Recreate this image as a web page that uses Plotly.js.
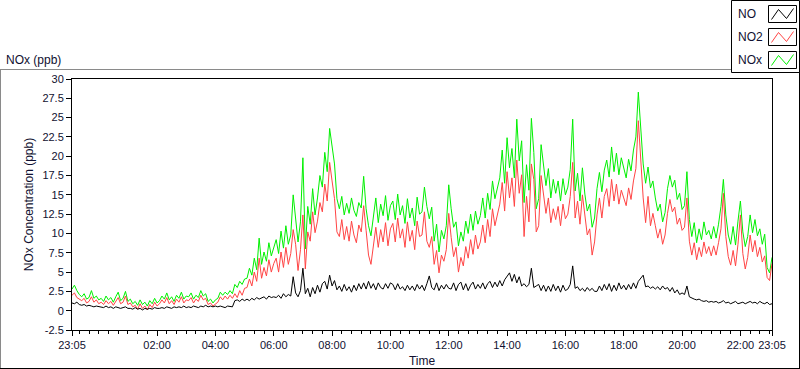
<!DOCTYPE html>
<html>
<head>
<meta charset="utf-8">
<script src="https://cdn.plot.ly/plotly-3.0.1.min.js"></script>
<style>
  html, body { margin: 0; padding: 0; background: #ffffff; }
  #chart { width: 800px; height: 369px; }
</style>
</head>
<body>
<div id="chart"></div>
<script>
// ---- Data (5-minute samples from 23:05 to 23:05 next day) ----
const START = '2020-01-01T23:05:00Z';
const STEP_MIN = 5;

const seriesNames = ['NO', 'NO2', 'NOx'];

const noValues = [
  1.0, 0.9, 1.1, 0.8, 0.7, 0.8, 0.6, 0.7, 0.6, 0.5, 0.6, 0.5,
  0.5, 0.4, 0.6, 0.4, 0.5, 0.3, 0.5, 0.4, 0.3, 0.4, 0.5, 0.3,
  0.3, 0.2, 0.4, 0.2, 0.3, 0.1, 0.3, 0.2, 0.3, 0.2, 0.4, 0.3,
  0.3, 0.4, 0.3, 0.5, 0.4, 0.3, 0.5, 0.4, 0.5, 0.4, 0.6, 0.4,
  0.5, 0.4, 0.6, 0.5, 0.4, 0.6, 0.5, 0.7, 0.5, 0.6, 0.5, 0.6,
  0.5, 0.6, 0.5, 0.4, 0.6, 0.5, 0.5, 1.3, 1.4, 1.2, 1.5, 1.3,
  1.5, 1.3, 1.6, 1.4, 1.7, 1.5, 1.6, 1.8, 1.5, 1.9, 1.7, 1.8,
  1.7, 2.0, 1.6, 2.2, 1.8, 2.1, 1.9, 4.4, 2.3, 1.8, 2.6, 5.5,
  2.2, 2.9, 1.8, 3.0, 2.2, 3.3, 2.4, 3.5, 3.8, 2.8, 4.6, 3.2,
  3.9, 2.7, 3.2, 2.5, 3.4, 2.6, 3.1, 2.4, 3.3, 2.6, 3.5, 2.8,
  3.6, 2.8, 3.8, 2.9, 3.5, 2.7, 3.6, 3.0, 2.8, 3.5, 2.9, 3.6,
  3.4, 2.7, 3.5, 2.8, 3.1, 2.6, 3.3, 2.7, 3.2, 2.6, 3.4, 2.8,
  3.3, 2.6, 3.5, 4.5, 3.0, 2.7, 3.6, 2.6, 3.3, 2.8, 3.4, 2.9,
  2.8, 3.6, 2.6, 3.4, 3.7, 2.7, 3.5, 2.6, 3.3, 3.7, 2.8, 3.4,
  2.9, 3.6, 2.8, 3.5, 3.8, 3.0, 3.7, 3.1, 3.9, 3.2, 4.0, 4.4,
  4.9, 3.8, 4.7, 3.6, 4.4, 3.2, 3.5, 3.1, 3.4, 5.5, 3.0, 3.2,
  3.4, 2.6, 3.3, 2.5, 3.2, 2.5, 3.4, 2.6, 3.2, 2.4, 3.3, 2.6,
  2.8, 3.4, 5.8, 2.9, 3.1, 2.6, 2.9, 2.5, 3.0, 2.6, 2.9, 2.5,
  2.5, 3.2, 2.6, 3.4, 2.7, 3.5, 2.5, 3.3, 2.6, 3.6, 2.8, 3.3,
  2.7, 3.4, 2.8, 3.6, 2.9, 3.8, 4.2, 4.6, 3.1, 3.2, 2.9, 3.1,
  2.8, 3.1, 2.7, 3.2, 2.8, 3.0, 2.5, 3.0, 2.3, 2.7, 2.1, 2.3,
  2.1, 3.2, 1.8, 1.6, 1.5, 1.4, 1.5, 1.3, 1.2, 1.3, 1.1, 1.2,
  1.1, 1.2, 1.0, 1.1, 1.3, 1.0, 1.1, 0.9, 1.0, 1.2, 0.9, 1.0,
  1.1, 0.9, 1.0, 1.2, 1.0, 1.1, 0.9, 1.2, 1.0, 0.9, 1.1, 0.8, 0.9
];

const no2Values = [
  2.0, 2.3, 1.7, 1.5, 1.3, 1.6, 1.0, 1.2, 1.8, 1.1, 1.4, 0.9,
  1.1, 0.8, 1.3, 0.9, 1.2, 0.7, 1.3, 1.7, 0.9, 1.1, 1.9, 0.8,
  1.0, 0.5, 0.7, 0.2, 0.9, 0.3, 0.6, 0.1, 0.8, 0.4, 1.1, 0.6,
  0.9, 1.4, 1.0, 1.7, 0.9, 1.3, 0.8, 1.5, 1.1, 1.8, 1.0, 1.4,
  1.3, 1.7, 1.0, 1.5, 1.2, 2.0, 1.4, 1.6, 0.8, 1.0, 0.6, 0.9,
  1.1, 1.8, 1.4, 1.9, 1.5, 2.0, 1.6, 2.2, 1.7, 2.6, 2.0, 2.9,
  3.0, 4.1, 3.2, 5.0, 3.8, 6.8, 4.2, 5.6, 4.5, 6.6, 5.0, 6.1,
  6.8, 5.0, 7.6, 5.6, 8.2, 6.0, 7.4, 10.5, 8.6, 5.2, 7.9, 12.4,
  5.4, 10.2, 9.0, 12.8, 10.1, 11.6, 14.0, 12.8, 16.4, 14.2, 19.2, 16.8,
  14.5, 10.2, 9.6, 11.8, 9.2, 10.9, 9.0, 11.6, 9.8, 8.8, 11.1, 10.2,
  13.6, 10.4, 7.2, 6.0, 8.6, 10.8, 8.2, 10.5, 8.9, 11.4, 8.4, 10.6,
  11.3, 8.9, 12.0, 9.4, 10.6, 8.2, 11.5, 9.0, 10.4, 7.9, 11.6, 9.6,
  9.8, 12.8, 9.0, 8.2, 9.6, 6.0, 7.8, 4.9, 7.2, 6.4, 7.9, 12.6,
  9.5, 7.0, 8.2, 5.0, 6.9, 5.8, 8.3, 6.8, 9.2, 7.3, 9.8, 8.0,
  8.9, 11.1, 8.8, 11.8, 9.6, 13.2, 11.0, 12.5, 13.8, 16.6, 12.9, 18.0,
  14.6, 17.2, 13.5, 19.5, 15.2, 17.6, 9.6, 14.8, 11.5, 19.0, 17.0, 10.2,
  11.0, 17.5, 15.0, 12.6, 14.6, 11.4, 13.2, 11.8, 13.5, 11.0, 13.8, 11.9,
  12.5, 14.8, 19.2, 12.0, 14.2, 11.2, 15.0, 12.0, 9.8, 10.6, 7.2, 8.9,
  12.4, 14.6, 12.0, 14.8, 15.8, 13.5, 17.0, 14.2, 16.4, 13.8, 15.6, 14.6,
  13.6, 15.9, 14.4, 16.8, 18.4, 24.6, 19.5, 14.6, 11.4, 14.8, 11.0, 12.6,
  11.0, 9.4, 10.6, 8.6, 9.8, 12.6, 14.4, 12.8, 13.4, 11.2, 12.0, 10.4,
  10.8, 14.6, 9.0, 7.2, 8.8, 6.6, 8.2, 7.0, 8.9, 7.4, 8.3, 7.1,
  8.4, 7.2, 8.8, 10.6, 15.2, 9.6, 7.0, 5.9, 7.8, 5.8, 8.6, 12.4,
  7.4, 5.4, 6.9, 9.8, 7.6, 9.1, 7.0, 8.2, 6.3, 7.1, 4.3, 3.9, 6.1
];

const noxValues = [
  2.8, 3.3, 2.6, 2.1, 1.8, 2.2, 1.5, 1.7, 2.6, 1.6, 1.9, 1.4,
  1.6, 1.2, 1.9, 1.4, 1.7, 1.1, 1.8, 2.4, 1.3, 1.6, 2.5, 1.2,
  1.5, 0.9, 1.2, 0.7, 1.4, 0.8, 1.1, 0.6, 1.3, 0.9, 1.6, 1.0,
  1.3, 1.9, 1.5, 2.3, 1.4, 1.8, 1.2, 2.0, 1.6, 2.4, 1.5, 1.9,
  1.8, 2.3, 1.5, 2.0, 1.7, 2.6, 1.9, 2.2, 1.2, 1.5, 1.0, 1.4,
  1.6, 2.4, 2.0, 2.4, 2.1, 2.6, 2.2, 3.4, 3.0, 3.8, 3.4, 4.1,
  4.2, 5.5, 4.6, 6.8, 5.3, 9.4, 6.0, 7.6, 6.4, 8.8, 7.1, 8.3,
  9.2, 7.4, 10.3, 8.1, 11.0, 8.6, 9.8, 15.0, 12.0, 8.9, 11.5, 19.8,
  8.0, 13.5, 11.2, 15.8, 12.4, 14.6, 17.5, 16.0, 20.5, 18.0, 23.6, 21.0,
  19.0, 14.5, 13.2, 14.8, 12.4, 13.9, 12.6, 14.6, 13.0, 12.2, 14.0, 13.3,
  17.4, 13.2, 11.0, 9.7, 12.1, 14.6, 11.4, 13.8, 12.3, 14.9, 11.7, 13.6,
  14.2, 11.8, 15.1, 12.4, 13.6, 11.3, 14.5, 12.0, 13.3, 11.0, 14.7, 12.5,
  12.8, 16.0, 13.5, 11.9, 13.4, 9.0, 11.2, 7.6, 10.4, 9.3, 11.0, 16.3,
  13.2, 10.8, 11.5, 8.4, 10.2, 9.0, 11.6, 10.0, 12.5, 10.4, 12.9, 11.2,
  12.3, 14.6, 12.0, 15.2, 13.1, 16.8, 14.5, 15.9, 17.2, 20.8, 16.5, 22.4,
  18.5, 21.0, 17.2, 24.8, 19.4, 22.0, 14.0, 18.9, 15.6, 24.9, 20.5, 13.2,
  14.5, 21.5, 19.0, 16.2, 18.4, 14.6, 17.0, 15.2, 16.8, 14.2, 17.1, 15.0,
  16.0, 18.3, 24.8, 15.5, 17.8, 14.2, 18.5, 15.1, 12.9, 13.8, 10.8, 12.0,
  15.8, 17.9, 15.4, 18.2, 19.5, 17.3, 21.2, 18.0, 20.4, 17.6, 19.8, 18.4,
  17.2, 19.6, 18.1, 20.8, 22.5, 28.3, 24.0, 19.0, 16.5, 18.6, 15.9, 16.8,
  14.6, 12.9, 13.8, 11.5, 12.7, 15.8, 17.5, 16.0, 16.9, 14.4, 15.2, 13.1,
  13.6, 18.0, 11.8, 9.6, 11.4, 8.8, 10.6, 9.2, 11.5, 9.8, 10.4, 9.3,
  10.9, 9.4, 11.2, 13.5, 17.0, 12.4, 9.8, 8.6, 10.9, 8.5, 11.6, 14.2,
  10.2, 8.3, 9.6, 12.4, 10.1, 11.8, 9.7, 10.6, 8.6, 9.9, 5.6, 4.9, 6.9
];

const xTickVals = ['2020-01-01 23:05', '2020-01-02 02:00', '2020-01-02 04:00', '2020-01-02 06:00',
  '2020-01-02 08:00', '2020-01-02 10:00', '2020-01-02 12:00', '2020-01-02 14:00',
  '2020-01-02 16:00', '2020-01-02 18:00', '2020-01-02 20:00', '2020-01-02 22:00', '2020-01-02 23:05'];
const xTickText = ['23:05', '02:00', '04:00', '06:00', '08:00', '10:00', '12:00', '14:00',
  '16:00', '18:00', '20:00', '22:00', '23:05'];
const yTickVals = [-2.5, 0, 2.5, 5, 7.5, 10, 12.5, 15, 17.5, 20, 22.5, 25, 27.5, 30];
const yTickText = ['-2.5', '0', '2.5', '5', '7.5', '10', '12.5', '15', '17.5', '20', '22.5', '25', '27.5', '30'];

// ---- build time stamps ----
function timeAt(i) {
  const d = new Date(Date.parse(START) + i * STEP_MIN * 60000);
  return d.toISOString().slice(0, 19).replace('T', ' ');
}
const times = noValues.map((_, i) => timeAt(i));

const colors = { NO: '#000000', NO2: '#ff4444', NOx: '#00f000' };

const traces = [
  { x: times, y: noxValues, name: 'NOx', type: 'scatter', mode: 'lines', line: { color: colors.NOx, width: 1 }, showlegend: false },
  { x: times, y: no2Values, name: 'NO2', type: 'scatter', mode: 'lines', line: { color: colors.NO2, width: 1 }, showlegend: false },
  { x: times, y: noValues, name: 'NO', type: 'scatter', mode: 'lines', line: { color: colors.NO, width: 1 }, showlegend: false }
];

// pixel -> paper helpers (plot area: x 72..772, y 79..330)
const L = 72, R = 772, T = 79, B = 330;
const px = v => (v - L) / (R - L);
const py = v => (B - v) / (B - T);

const FONT = 'Liberation Sans, Arial, sans-serif';
const shapes = [];
const annotations = [];

// outer frame
shapes.push({ type: 'line', xref: 'paper', yref: 'paper', x0: px(0), x1: px(731), y0: py(69.5), y1: py(69.5), line: { color: '#8a8a8a', width: 1 } });
shapes.push({ type: 'line', xref: 'paper', yref: 'paper', x0: px(0.5), x1: px(0.5), y0: py(69.5), y1: py(368.5), line: { color: '#8a8a8a', width: 1 } });
shapes.push({ type: 'line', xref: 'paper', yref: 'paper', x0: px(0), x1: px(800), y0: py(368.5), y1: py(368.5), line: { color: '#000000', width: 1 } });
shapes.push({ type: 'line', xref: 'paper', yref: 'paper', x0: px(799.5), x1: px(799.5), y0: py(69.5), y1: py(368.5), line: { color: '#000000', width: 1 } });

// custom legend
shapes.push({ type: 'rect', xref: 'paper', yref: 'paper', x0: px(731.5), x1: px(799.5), y0: py(0.5), y1: py(72.5), line: { color: '#000000', width: 1 }, fillcolor: '#ffffff' });
const legendRows = [ { name: 'NO', top: 5 }, { name: 'NO2', top: 28 }, { name: 'NOx', top: 51 } ];
legendRows.forEach(r => {
  const x = 768.5, y = r.top + 0.5;
  shapes.push({ type: 'rect', xref: 'paper', yref: 'paper', x0: px(x), x1: px(x + 28), y0: py(y), y1: py(y + 17), line: { color: '#000000', width: 1 }, fillcolor: '#ffffff' });
  const pts = [[x + 3, y + 14], [x + 10, y + 4], [x + 18, y + 13], [x + 25, y + 3]];
  const path = pts.map((p, i) => (i ? 'L' : 'M') + px(p[0]) + ',' + py(p[1])).join(' ');
  shapes.push({ type: 'path', xref: 'paper', yref: 'paper', path: path, line: { color: colors[r.name], width: 1 } });
  annotations.push({ xref: 'paper', yref: 'paper', x: px(736), y: py(y + 8.5), xanchor: 'left', yanchor: 'middle', text: r.name, showarrow: false, font: { family: FONT, size: 12, color: '#101030' } });
});

// top-left caption
annotations.push({ xref: 'paper', yref: 'paper', x: px(4), y: py(60), xanchor: 'left', yanchor: 'middle', text: 'NOx (ppb)', showarrow: false, font: { family: FONT, size: 12, color: '#101030' } });

const layout = {
  width: 800, height: 369,
  margin: { l: L, r: 800 - R, t: T, b: 369 - B, pad: 0 },
  paper_bgcolor: '#ffffff', plot_bgcolor: '#ffffff',
  font: { family: FONT, size: 11, color: '#101030' },
  showlegend: false,
  xaxis: {
    type: 'date',
    range: ['2020-01-01 23:05', '2020-01-02 23:05'],
    tickmode: 'array', tickvals: xTickVals, ticktext: xTickText,
    ticks: 'outside', ticklen: 5, tickcolor: '#000', tickwidth: 1,
    minor: { ticks: 'outside', ticklen: 3, tickcolor: '#000', tickwidth: 1, tickmode: 'linear', tick0: '2020-01-01 00:00', dtick: 20 * 60000, showgrid: false },
    showline: true, linecolor: '#000', linewidth: 1, mirror: true,
    showgrid: false, zeroline: false,
    tickfont: { family: FONT, size: 11, color: '#101030' },
    title: { text: 'Time', font: { family: FONT, size: 12, color: '#101030' }, standoff: 6 }
  },
  yaxis: {
    range: [-2.5, 30],
    tickmode: 'array', tickvals: yTickVals, ticktext: yTickText,
    ticks: 'outside', ticklen: 5, tickcolor: '#000', tickwidth: 1,
    showline: true, linecolor: '#000', linewidth: 1, mirror: true,
    showgrid: false, zeroline: false,
    tickfont: { family: FONT, size: 11, color: '#101030' },
    title: { text: 'NOx Concentration (ppb)', font: { family: FONT, size: 12, color: '#101030' }, standoff: 6 }
  },
  shapes: shapes,
  annotations: annotations
};

Plotly.newPlot('chart', traces, layout, { staticPlot: true, displayModeBar: false });
</script>
</body>
</html>
